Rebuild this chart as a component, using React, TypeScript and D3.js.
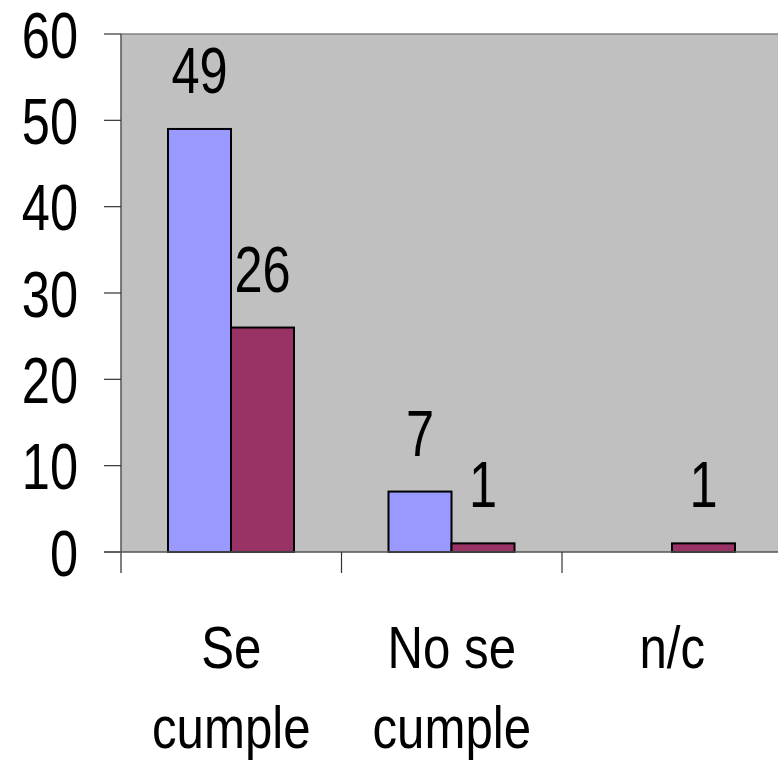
import { useEffect, useRef } from 'react';
import * as d3 from 'd3';

const categories = [['Se', 'cumple'], ['No se', 'cumple'], ['n/c']];
const seriesNames = ['A', 'B'];
const seriesA: (number | null)[] = [49, 7, null];
const seriesB: (number | null)[] = [26, 1, 1];
const yTicks = [0, 10, 20, 30, 40, 50, 60];
const colors = ['#9999FF', '#993366'];

const FONT = '"Liberation Sans", Arial, sans-serif';

const App = () => {
  const svgRef = useRef<SVGSVGElement>(null);

  useEffect(() => {
    if (!svgRef.current) return;
    const svg = d3.select(svgRef.current);
    svg.selectAll('*').remove();

    const left = 121, top = 34, bottom = 552;
    const bandW = 220.5;

    const x = d3.scaleBand<number>()
      .domain(categories.map((_, i) => i))
      .range([left, left + bandW * categories.length])
      .padding(0);
    const xs = d3.scaleBand<string>()
      .domain(seriesNames)
      .range([47, 47 + 126])
      .padding(0);
    const y = d3.scaleLinear().domain([0, 60]).range([bottom, top]);

    // no narrow face installed, so squeeze the regular one
    const label = (tx: number, ty: number, txt: string | number, size: number, sx: number, anchor = 'middle') =>
      svg.append('text')
        .attr('transform', `translate(${tx},${ty}) scale(${sx},1)`)
        .attr('text-anchor', anchor)
        .attr('font-family', FONT).attr('font-size', size)
        .text(txt);

    // plot background
    svg.append('rect')
      .attr('x', left).attr('y', top)
      .attr('width', 778 - left).attr('height', bottom - top)
      .attr('fill', '#C0C0C0');
    svg.append('line')
      .attr('x1', left).attr('x2', 778).attr('y1', top).attr('y2', top)
      .attr('stroke', '#808080').attr('stroke-width', 1.5);

    // y axis
    svg.append('line')
      .attr('x1', left).attr('x2', left).attr('y1', top).attr('y2', bottom + 21)
      .attr('stroke', '#555').attr('stroke-width', 1.5);
    svg.selectAll('.yt').data(yTicks).enter().append('line')
      .attr('x1', 104).attr('x2', left)
      .attr('y1', d => y(d)).attr('y2', d => y(d))
      .attr('stroke', '#333').attr('stroke-width', 1.2);
    yTicks.forEach(t => label(78, y(t) + 23.5, t, 64, 0.79, 'end'));

    // bars
    [seriesA, seriesB].forEach((vals, si) => {
      vals.forEach((v, ci) => {
        if (v == null) return;
        const bx = (x(ci) || 0) + (xs(seriesNames[si]) || 0);
        svg.append('rect')
          .attr('x', bx).attr('y', y(v))
          .attr('width', xs.bandwidth()).attr('height', bottom - y(v))
          .attr('fill', colors[si])
          .attr('stroke', '#000').attr('stroke-width', 2);
        label(bx + xs.bandwidth() / 2, y(v) - 36, v, 64, 0.79);
      });
    });

    // x axis
    svg.append('line')
      .attr('x1', 104).attr('x2', 778).attr('y1', bottom).attr('y2', bottom)
      .attr('stroke', '#555').attr('stroke-width', 1.5);
    categories.forEach((_, i) => {
      svg.append('line')
        .attr('x1', (x(i) || 0) + bandW).attr('x2', (x(i) || 0) + bandW)
        .attr('y1', bottom).attr('y2', bottom + 21)
        .attr('stroke', '#333').attr('stroke-width', 1.2);
    });
    categories.forEach((lines, i) => {
      lines.forEach((ln, li) => label((x(i) || 0) + bandW / 2, 668 + li * 80, ln, 60, 0.82));
    });
  }, []);

  return (
    <svg ref={svgRef} width={778} height={761}
      style={{ position: 'absolute', left: 0, top: 0, background: '#fff' }} />
  );
};

export default App;
